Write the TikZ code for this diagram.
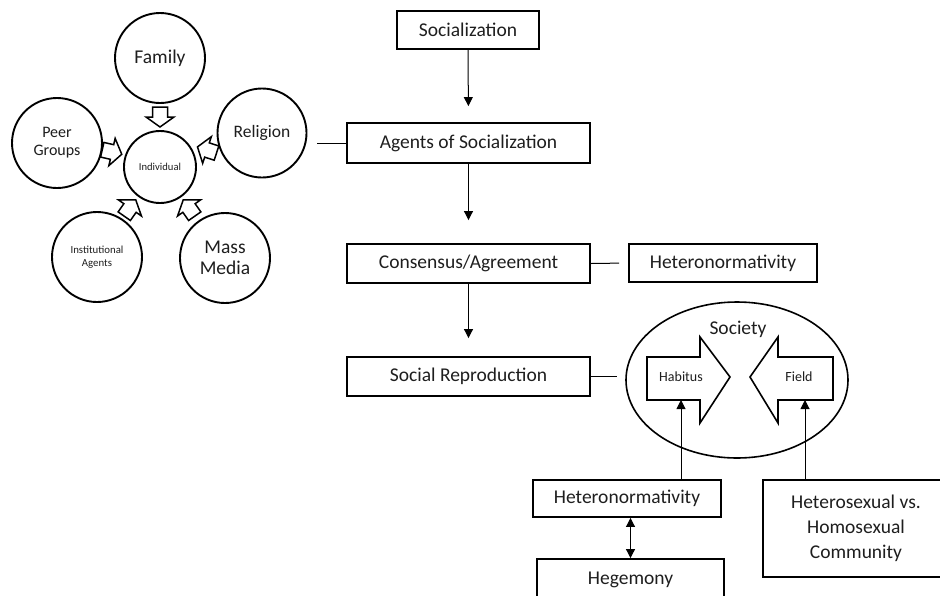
\documentclass[tikz,border=0pt]{standalone}
\usepackage{fontspec}
\setmainfont{Carlito}
\usetikzlibrary{arrows.meta,shapes.geometric,calc}
\definecolor{txt}{HTML}{1E1E1E}
\begin{document}
\begin{tikzpicture}[x=1pt,y=-1pt,
  big/.style={font=\fontsize{19.5}{23}\selectfont, text=txt},
  box/.style={draw, line width=1.9pt, inner sep=0pt, big, align=center},
  circ/.style={circle, draw, line width=1.9pt, fill=white, inner sep=0pt, minimum size=90pt, align=center, text=txt},
  conn/.style={line width=1pt},
  arr/.style={conn, -{Triangle[width=9pt,length=9pt]}},
  blockarrow/.pic={\draw[line width=1.5pt, fill=white, line join=miter]
     (-10,-7.5) -- (0,-7.5) -- (0,-14) -- (10,0) -- (0,14) -- (0,7.5) -- (-10,7.5) -- cycle;}
]
\useasboundingbox (0,0) rectangle (940,595);

% radial agents
\node[circ, font=\fontsize{19.5}{21}\selectfont] (family) at (160,58) {Family};
\node[circ, font=\fontsize{16}{18}\selectfont] (peer) at (57,143) {Peer\\Groups};
\node[circ, minimum size=89pt, font=\fontsize{17.5}{20}\selectfont] (religion) at (262,133) {Religion};
\node[circ, minimum size=72pt, font=\fontsize{10.6}{12}\selectfont] (indiv) at (160,167) {Individual};
\node[circ, font=\fontsize{10.8}{12.5}\selectfont] (inst) at (97,257) {Institutional\\Agents};
\node[circ, font=\fontsize{19.5}{21}\selectfont] (mass) at (225,258) {Mass\\Media};

\pic[rotate=-90] at (160,117) {blockarrow};
\pic[rotate=-13] at (112,152) {blockarrow};
\pic[rotate=162] at (207,150) {blockarrow};
\pic[rotate=55] at (130,208) {blockarrow};
\pic[rotate=125] at (189,208) {blockarrow};

% main chain
\node[box, minimum width=142pt, minimum height=38pt] (soc) at (468,30) {Socialization};
\node[box, minimum width=243pt, minimum height=40pt] (agents) at (468.5,143) {Agents of Socialization};
\node[box, minimum width=243pt, minimum height=39pt] (cons) at (468.5,263.5) {Consensus/Agreement};
\node[box, minimum width=243pt, minimum height=39pt] (socrep) at (468.5,376.5) {Social Reproduction};
\node[box, minimum width=188pt, minimum height=38pt] (het1) at (723,263) {Heteronormativity};

\draw[arr, shorten >=16pt] (soc.south) -- (agents.north);
\draw[arr, shorten >=23pt] (agents.south) -- (cons.north);
\draw[arr, shorten >=18pt] (cons.south) -- (socrep.north);
\draw[conn, shorten <=10pt] (religion.east |- agents.west) -- (agents.west);
\draw[conn, shorten >=9pt] (cons.east) -- (het1.west);

% society
\node[ellipse, draw, line width=1.6pt, minimum width=222pt, minimum height=156pt, inner sep=0pt] (society) at (737,380) {};
\node[big] (societylbl) at (738,329) {Society};
\draw[conn, shorten >=8pt] (socrep.east) -- (socrep.east -| society.west);

\draw[line width=1.6pt, fill=white, line join=miter]
  (647,357) -- (700,357) -- (700,337) -- (730,377) -- (700,423) -- (700,400) -- (647,400) -- cycle;
\node[font=\fontsize{14}{16}\selectfont, text=txt] (habitus) at (681,377) {Habitus};
\draw[line width=1.6pt, fill=white, line join=miter]
  (833,357) -- (778,357) -- (778,337) -- (750,377) -- (778,423) -- (778,400) -- (833,400) -- cycle;
\node[font=\fontsize{14}{16}\selectfont, text=txt] (field) at (799,377) {Field};
\coordinate (hab) at (681,400);
\coordinate (fld) at (805,400);

% bottom
\node[box, minimum width=188pt, minimum height=37pt] (het2) at (627,498.5) {Heteronormativity};
\node[box, minimum width=187pt, minimum height=42pt] (heg) at (630.5,580) {Hegemony};
\node[box, minimum width=186pt, minimum height=97pt, font=\fontsize{19.5}{25}\selectfont] (hs) at (856,528.5) {Heterosexual vs.\\Homosexual\\Community};

\draw[arr] (het2.north -| hab) -- (hab);
\draw[arr] (hs.north -| fld) -- (fld);
\draw[conn, {Triangle[width=9pt,length=9pt]}-{Triangle[width=9pt,length=9pt]}] (heg.north |- het2.south) -- (heg.north);
\end{tikzpicture}
\end{document}
